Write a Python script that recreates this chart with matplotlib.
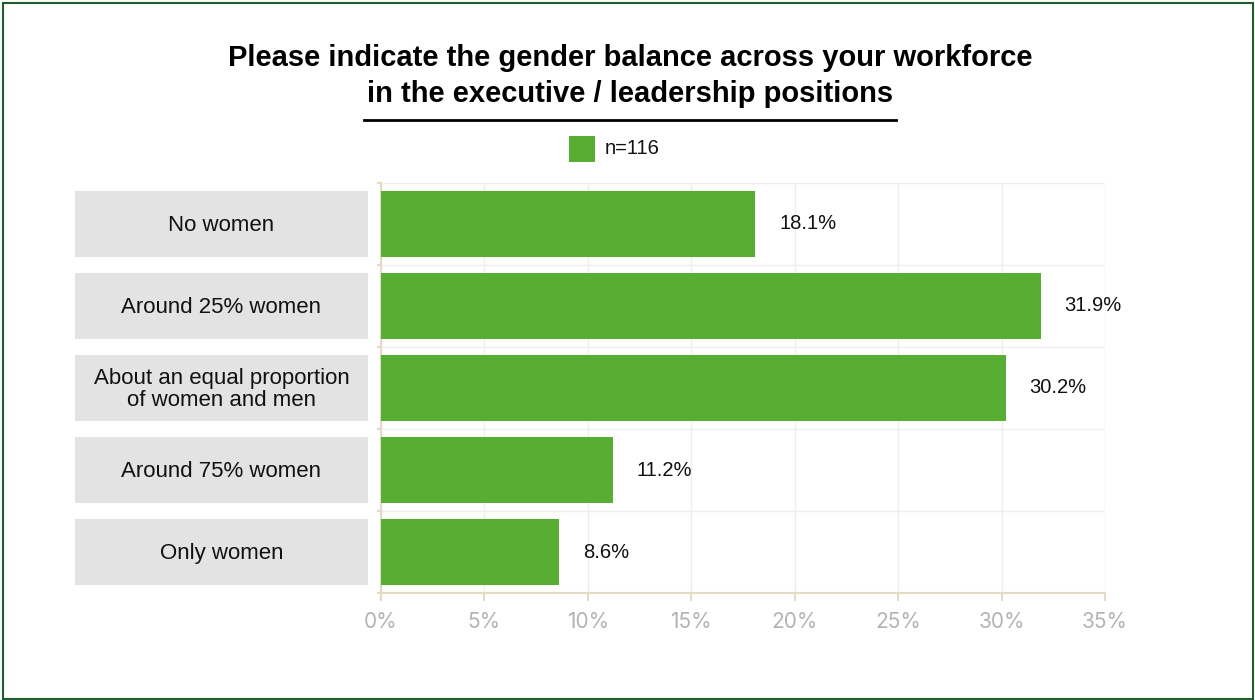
import matplotlib
matplotlib.use("Agg")
import matplotlib.pyplot as plt
from matplotlib.patches import Rectangle
from matplotlib.transforms import blended_transform_factory
import numpy as np

categories = ["No women", "Around 25% women",
              "About an equal proportion\nof women and men",
              "Around 75% women", "Only women"]
values = [18.1, 31.9, 30.2, 11.2, 8.6]
x_ticks = [0, 5, 10, 15, 20, 25, 30, 35]
x_tick_labels = ["0%", "5%", "10%", "15%", "20%", "25%", "30%", "35%"]
legend_label = "n=116"
title = "Please indicate the gender balance across your workforce\nin the executive / leadership positions"

BAR = "#57ae33"
BOX = "#e3e3e3"
AXIS = "#e2dcc6"
GRID = "#eeeeee"
TICKTXT = "#b3b3b3"

W, H = 1255, 700
fig = plt.figure(figsize=(W / 100, H / 100), dpi=100)
plt.rcParams["font.family"] = ["Liberation Sans", "DejaVu Sans"]

ax = fig.add_axes([381 / W, (H - 593) / H, (1105 - 381) / W, (593 - 183) / H])
y = np.arange(len(categories))
ax.barh(y, values, height=0.8, color=BAR, zorder=3)
ax.set_xlim(0, 35)
ax.set_ylim(len(categories) - 0.5, -0.5)

# value labels to the right of each bar
for yi, v in zip(y, values):
    ax.text(v + 1.15, yi, f"{v}%", va="center", ha="left", fontsize=14.5, color="#111111", zorder=4)

# grid: vertical at major ticks, horizontal at category boundaries
ax.set_xticks(x_ticks)
ax.set_xticklabels(x_tick_labels, fontsize=15, color=TICKTXT, family=["Inter", "DejaVu Sans"])
ax.set_yticks([])
ax.set_yticks(np.arange(-0.5, len(categories), 1.0), minor=True)
ax.tick_params(axis="x", length=6, width=1.5, color=AXIS, pad=8)
ax.tick_params(axis="y", which="minor", length=3, width=1.5, color=AXIS)
ax.grid(axis="x", color=GRID, linewidth=1, zorder=0)
ax.grid(axis="y", which="minor", color=GRID, linewidth=1, zorder=0)
for s in ["top", "right"]:
    ax.spines[s].set_visible(False)
for s in ["left", "bottom"]:
    ax.spines[s].set_color(AXIS)
    ax.spines[s].set_linewidth(1.5)

# gray category boxes at the left
tr = blended_transform_factory(fig.transFigure, ax.transData)
for yi, cat in zip(y, categories):
    ax.add_patch(Rectangle((75 / W, yi - 0.4), (368 - 75) / W, 0.8, transform=tr,
                           facecolor=BOX, edgecolor="none", clip_on=False, zorder=2))
    ax.text(221.5 / W, yi + 0.02, cat, transform=tr, ha="center", va="center",
            fontsize=16, color="#111111", linespacing=1.1, clip_on=False)

# title with underline
fig.text(630 / W, 1 - 76 / H, title, ha="center", va="center", fontsize=21,
         fontweight="bold", color="#000000", linespacing=1.36)
fig.add_artist(plt.Line2D([364 / W, 896 / W], [1 - 120 / H, 1 - 120 / H],
                          color="#000000", linewidth=2, transform=fig.transFigure))

# legend
fig.add_artist(Rectangle((569 / W, 1 - 162 / H), 26 / W, 26 / H, transform=fig.transFigure,
                         facecolor=BAR, edgecolor="none"))
fig.text(605 / W, 1 - 149 / H, legend_label, ha="left", va="center", fontsize=14.5, color="#111111")

# outer frame
fig.add_artist(Rectangle((2.5 / W, 1.5 / H), (W - 5) / W, (H - 4) / H, transform=fig.transFigure,
                         facecolor="none", edgecolor="#1d5e2c", linewidth=1.5))

fig.savefig("out.png", dpi=100)
